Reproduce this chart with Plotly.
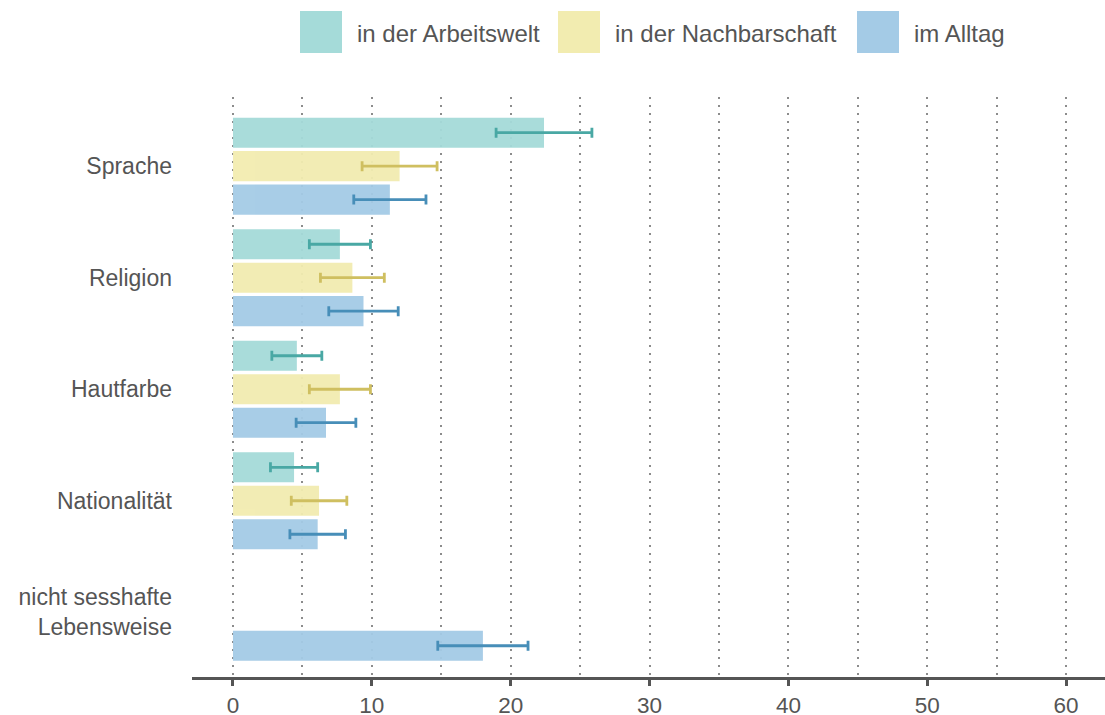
import plotly.graph_objects as go

categories = ["Sprache", "Religion", "Hautfarbe", "Nationalität", "nicht sesshafte<br>Lebensweise"]
series_names = ["in der Arbeitswelt", "in der Nachbarschaft", "im Alltag"]
arbeitswelt = [22.4, 7.7, 4.6, 4.4, None]
arbeitswelt_err = [3.45, 2.2, 1.8, 1.7, None]
nachbarschaft = [12.0, 8.6, 7.7, 6.2, None]
nachbarschaft_err = [2.7, 2.3, 2.2, 2.0, None]
alltag = [11.3, 9.4, 6.7, 6.1, 18.0]
alltag_err = [2.6, 2.5, 2.15, 2.0, 3.25]
x_ticks = [0, 10, 20, 30, 40, 50, 60]

fills = ["rgb(165,219,217)", "rgb(242,236,176)", "rgb(164,203,230)"]
errc = ["rgb(64,164,160)", "rgb(205,188,88)", "rgb(62,136,181)"]

fig = go.Figure()
for name, vals, errs, fc, ec in zip(series_names, [arbeitswelt, nachbarschaft, alltag],
                                    [arbeitswelt_err, nachbarschaft_err, alltag_err], fills, errc):
    fig.add_trace(go.Bar(
        y=categories, x=vals, name=name, orientation="h",
        marker=dict(color=fc, line=dict(width=0)), opacity=0.95,
        error_x=dict(type="data", array=errs, symmetric=True, color=ec, thickness=2.8, width=5),
        showlegend=False,
    ))

# legend drawn as swatches + labels
L, R, T, B = 192, 1105, 97, 677
leg_x = [300, 558, 857]
for i, (name, fc) in enumerate(zip(series_names, fills)):
    fig.add_shape(type="rect", xref="paper", yref="paper",
                  x0=(leg_x[i] - L) / (R - L), x1=(leg_x[i] + 42 - L) / (R - L),
                  y0=(B - 53) / (B - T), y1=(B - 11) / (B - T),
                  fillcolor=fc, line=dict(width=0))
    fig.add_annotation(xref="paper", yref="paper",
                       x=(leg_x[i] + 55 - L) / (R - L), y=(B - 33) / (B - T),
                       text=name, showarrow=False, xanchor="left", yanchor="middle",
                       font=dict(size=24, color="#555555"))

grid = dict(showgrid=True, gridcolor="#8c8c8c", griddash="2px,6px", gridwidth=2)

fig.update_layout(
    width=1105, height=715,
    margin=dict(l=L, r=1105 - R, t=T, b=715 - B),
    plot_bgcolor="white", paper_bgcolor="white",
    barmode="group", bargap=0.1, bargroupgap=0.1,
    font=dict(family="Liberation Sans, Arial, sans-serif", size=23, color="#555555"),
    xaxis=dict(
        range=[-2.95, 62.8], tickvals=x_ticks, ticktext=[str(v) for v in x_ticks],
        **grid,
        zeroline=False, showline=True, linecolor="#555555", linewidth=2.5,
        ticks="outside", ticklen=6, tickwidth=2.5, tickcolor="#555555",
        minor=dict(dtick=5, tick0=0, ticks="", **grid),
        tickfont=dict(size=22.5, color="#555555"), automargin=False,
    ),
    yaxis=dict(
        range=[4.58, -0.62], showgrid=False, zeroline=False, showline=False,
        ticks="", ticklabelstandoff=19, tickfont=dict(size=23, color="#555555"),
        automargin=False,
    ),
)

fig.write_html("out.html", config={"displayModeBar": False},
               post_script="document.body.style.margin='0';")
